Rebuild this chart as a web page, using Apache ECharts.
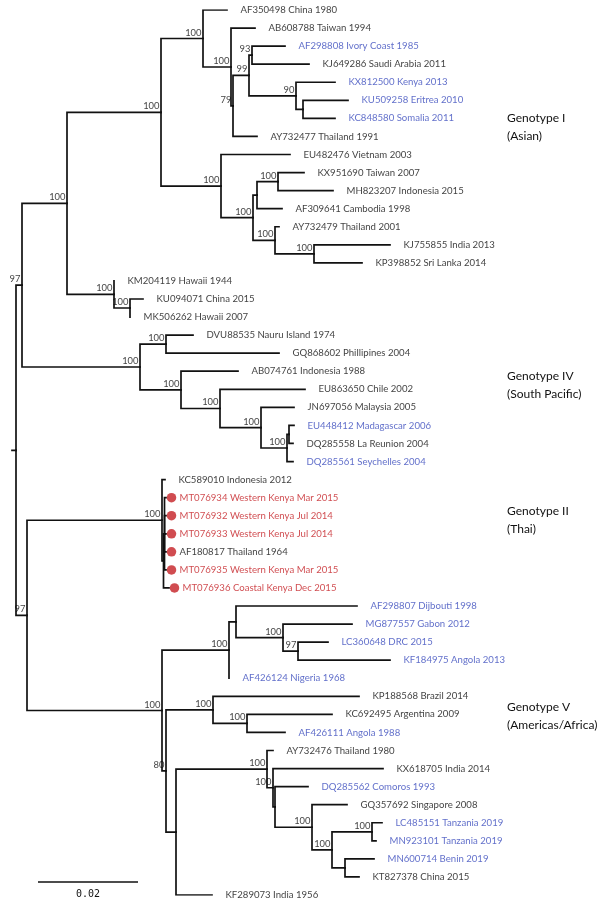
<!DOCTYPE html>
<html><head><meta charset="utf-8">
<script src="https://cdn.jsdelivr.net/npm/echarts@6/dist/echarts.min.js"></script>
<style>html,body{margin:0;padding:0;background:#fff}#c{width:600px;height:904px}</style>
</head><body><div id="c"></div>
<script>
// ---- data ----
const leafNames = [
 "AF350498 China 1980","AB608788 Taiwan 1994","AF298808 Ivory Coast 1985","KJ649286 Saudi Arabia 2011",
 "KX812500 Kenya 2013","KU509258 Eritrea 2010","KC848580 Somalia 2011","AY732477 Thailand 1991",
 "EU482476 Vietnam 2003","KX951690 Taiwan 2007","MH823207 Indonesia 2015","AF309641 Cambodia 1998",
 "AY732479 Thailand 2001","KJ755855 India 2013","KP398852 Sri Lanka 2014","KM204119 Hawaii 1944",
 "KU094071 China 2015","MK506262 Hawaii 2007","DVU88535 Nauru Island 1974","GQ868602 Phillipines 2004",
 "AB074761 Indonesia 1988","EU863650 Chile 2002","JN697056 Malaysia 2005","EU448412 Madagascar 2006",
 "DQ285558 La Reunion 2004","DQ285561 Seychelles 2004","KC589010 Indonesia 2012",
 "MT076934 Western Kenya Mar 2015","MT076932 Western Kenya Jul 2014","MT076933 Western Kenya Jul 2014",
 "AF180817 Thailand 1964","MT076935 Western Kenya Mar 2015","MT076936 Coastal Kenya Dec 2015",
 "AF298807 Dijbouti 1998","MG877557 Gabon 2012","LC360648 DRC 2015","KF184975 Angola 2013",
 "AF426124 Nigeria 1968","KP188568 Brazil 2014","KC692495 Argentina 2009","AF426111 Angola 1988",
 "AY732476 Thailand 1980","KX618705 India 2014","DQ285562 Comoros 1993","GQ357692 Singapore 2008",
 "LC485151 Tanzania 2019","MN923101 Tanzania 2019","MN600714 Benin 2019","KT827378 China 2015",
 "KF289073 India 1956"
];
// k = reference, b = African isolate, r = this study
const leafGroups = ["k","k","b","k","b","b","b","k","k","k","k","k","k","k","k","k","k","k","k","k",
 "k","k","k","b","k","b","k","r","r","r","k","r","r","b","b","b","b","b","k","k","b","k","k","b","k",
 "b","b","b","k","k"];
const markedLeaves = [27,28,29,30,31,32];
// clades in Newick form: leaf index : branch length (substitutions/site), support after ')'
const genotypeI = "(((0:0.0048,(1:0.0048,(((2:0.0066,3:0.0114)93:0.0006,(4:0.0078,(5:0.009,6:0.0064):0.0014)90:0.0094)99:0.0032,7:0.0048)79:0.0004)100:0.0056)100:0.0084,(8:0.0138,(((9:0.0052,10:0.011)100:0.0042,11:0.005):0.0008,(12:0.0008,(13:0.0152,14:0.0096)100:0.0078)100:0.0044)100:0.0064)100:0.012)100:0.0188,(15:0,(16:0.0026,17:0)100:0.0032)100:0.0094)100:0.009";
const genotypeIV = "((18:0.0054,19:0.0226)100:0.0052,(20:0.0114,(21:0.017,(22:0.0066,((23:0.001,24:0.0008):0.0004,25:0.0012)100:0.0052)100:0.0082)100:0.0078)100:0.0082)100:0.0236";
const genotypeII = "(26:0.0006,((27:0.0003,28:0.0003,29:0.0003,30:0.0003,31:0.0003):0.0002,32:0.0011):0.0003)100:0.027";
const genotypeV = "(((33:0.0242,(34:0.0138,(35:0.006,36:0.0184)97:0.003)100:0.0094):0.0014,37:0)100:0.0134,((38:0.0292,(39:0.017,40:0.0076)100:0.0068)100:0.0094,((41:0.0012,(42:0.022,(43:0.0066,(44:0.007,((45:0.002,46:0.0008)100:0.008,(47:0.0058,48:0.0028):0.0026)100:0.004)100:0.0074):0.0004)100:0.0012)100:0.0182,49:0.0072):0.002)80:0.0008)100:0.027";
const basalSupport = [97, 97];
const basalBranch = [0.0012, 0.0022];
const rootStub = 0.0008;
const scaleBarLength = 0.02;
const genotypeLabels = [["Genotype I","(Asian)"],["Genotype IV","(South Pacific)"],["Genotype II","(Thai)"],["Genotype V","(Americas/Africa)"]];

// ---- build tree ----
const newick = `((${genotypeI},${genotypeIV})${basalSupport[0]}:${basalBranch[0]},(${genotypeII},${genotypeV})${basalSupport[1]}:${basalBranch[1]}):${rootStub}`;
function parse(s){
  let i=0;
  function node(){
    const n={children:[]};
    if(s[i]==='('){ i++; n.children.push(node()); while(s[i]===','){ i++; n.children.push(node()); } i++; }
    let lab=''; while(i<s.length && !':,()'.includes(s[i])) lab+=s[i++];
    let num=''; if(s[i]===':'){ i++; while(i<s.length && !',()'.includes(s[i])) num+=s[i++]; }
    n.len = num ? parseFloat(num) : 0;
    if(n.children.length) n.support = lab; else n.leaf = parseInt(lab,10);
    return n;
  }
  return node();
}
const root = parse(newick);
function lay(n, d){
  n.x = d + n.len;
  if(n.children.length){
    n.children.forEach(c=>lay(c,n.x));
    n.y = (n.children[0].y + n.children[n.children.length-1].y)/2;
  } else n.y = n.leaf;
}
lay(root, 0);
const branches=[], leaves=[], supports=[];
(function walk(n){
  if(n.children.length){
    if(n.support) supports.push({value:[n.x,n.y], name:n.support});
    n.children.forEach(c=>{ branches.push({coords:[[n.x,n.y],[n.x,c.y],[c.x,c.y]]}); walk(c); });
  } else leaves.push(n);
})(root);
branches.push({coords:[[0,root.y],[root.x,root.y]]});

const colorMap = {k:'#0d0d0d', b:'#3a4bbd', r:'#c41f24'};
const leafData = leaves.map(l=>({value:[l.x,l.y], name:leafNames[l.leaf], label:{color:colorMap[leafGroups[l.leaf]]}}));
const markData = leaves.filter(l=>markedLeaves.includes(l.leaf)).map(l=>({value:[l.x,l.y]}));

const chart = echarts.init(document.getElementById('c'));
chart.setOption({
  animation:false,
  backgroundColor:'#fff',
  grid:{left:12,right:0,top:10,bottom:9},
  xAxis:{type:'value',min:0,max:0.1176,show:false},
  yAxis:{type:'value',min:0,max:49,inverse:true,show:false},
  series:[
    {type:'lines',coordinateSystem:'cartesian2d',polyline:true,data:branches,silent:true,
     lineStyle:{color:'#111',width:1.7,opacity:1,curveness:0,cap:'square'}},
    {type:'scatter',data:markData,symbol:'circle',symbolSize:9.5,symbolOffset:[5.5,0],
     itemStyle:{color:'#c41f24'},z:3},
    {type:'scatter',data:leafData,symbolSize:1,itemStyle:{color:'transparent'},z:4,
     label:{show:true,position:'right',distance:13,formatter:p=>p.name,fontSize:9.6,fontFamily:'Lato'}},
    {type:'scatter',data:supports,symbolSize:1,itemStyle:{color:'transparent'},z:4,
     label:{show:true,position:'left',distance:1,offset:[0,-6],formatter:p=>p.name,fontSize:9.4,fontFamily:'Lato',color:'#0d0d0d'}}
  ]
});
// scale bar and clade labels
const p0 = chart.convertToPixel({gridIndex:0},[0,0])[0];
const p1 = chart.convertToPixel({gridIndex:0},[scaleBarLength,0])[0];
const barW = p1-p0, barX=38, barY=882;
const cladeY = [118,376,511,707];
const g = [
  {type:'line',shape:{x1:barX,y1:barY,x2:barX+barW,y2:barY},style:{stroke:'#111',lineWidth:1.7}},
  {type:'text',x:barX+barW/2,y:894,style:{text:String(scaleBarLength),font:'10px "DejaVu Sans Mono"',fill:'#111',align:'center',verticalAlign:'middle'}}
];
genotypeLabels.forEach((t,i)=>{
  t.forEach((line,j)=>g.push({type:'text',x:507,y:cladeY[i]+j*18,style:{text:line,font:'12px Lato',fill:'#111',verticalAlign:'middle'}}));
});
chart.setOption({graphic:g});
</script>
</body></html>
